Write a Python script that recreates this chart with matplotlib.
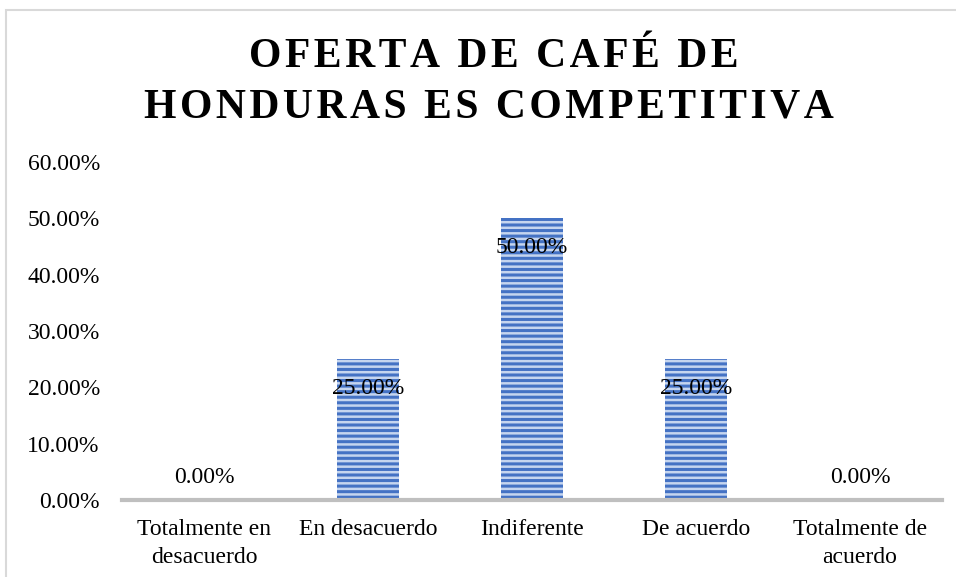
import matplotlib.pyplot as plt
from matplotlib.patches import Rectangle

categories = ['Totalmente en\ndesacuerdo', 'En desacuerdo', 'Indiferente', 'De acuerdo', 'Totalmente de\nacuerdo']
values = [0.0, 25.0, 50.0, 25.0, 0.0]
yticks = [0, 10, 20, 30, 40, 50, 60]
title_lines = ['OFERTA DE CAFÉ DE', 'HONDURAS ES COMPETITIVA']

plt.rcParams['font.family'] = ['Liberation Serif', 'DejaVu Serif']
plt.rcParams['hatch.linewidth'] = 2.2


def spaced(s):
    # Excel title uses wide letter spacing; emulate with hair spaces
    return '\u200a'.join(s)


fig = plt.figure(figsize=(9.56, 5.77), dpi=100)
ax = fig.add_axes([122 / 956, 77 / 577, 820 / 956, 338 / 577])

x = range(len(categories))
ax.bar(x, values, width=0.38, color='#c5d5ef', edgecolor='#4472c4',
       linewidth=0, hatch='---')

for i, v in enumerate(values):
    if v > 0:
        ax.annotate(f'{v:.2f}%', (i, v), xytext=(0, -21), textcoords='offset points',
                    ha='center', va='center', fontsize=17)
    else:
        ax.annotate(f'{v:.2f}%', (i, v), xytext=(0, 16), textcoords='offset points',
                    ha='center', va='center', fontsize=17)

ax.set_xlim(-0.5, len(categories) - 0.5)
ax.set_ylim(0, 60)
ax.set_yticks(yticks)
ax.set_yticklabels([f'{t:.2f}%' for t in yticks], fontsize=17)
ax.set_xticks(list(x))
ax.set_xticklabels(categories, fontsize=17, linespacing=1.4)
ax.tick_params(length=0)
ax.tick_params(axis='y', pad=16)
ax.tick_params(axis='x', pad=14)
for s in ['top', 'right', 'left']:
    ax.spines[s].set_visible(False)
ax.spines['bottom'].set_color('#bfbfbf')
ax.spines['bottom'].set_linewidth(3)

fig.text(494 / 956, 1 - 57 / 577, spaced(title_lines[0]), ha='center', va='center',
         fontsize=30, fontweight='bold')
fig.text(489 / 956, 1 - 107 / 577, spaced(title_lines[1]), ha='center', va='center',
         fontsize=30, fontweight='bold')

fig.patches.append(Rectangle((6 / 956, -0.1), 1.2, (577 - 10) / 577 + 0.1,
                             transform=fig.transFigure, fill=False,
                             edgecolor='#d9d9d9', linewidth=1.5))

fig.savefig('out.png', dpi=100)
